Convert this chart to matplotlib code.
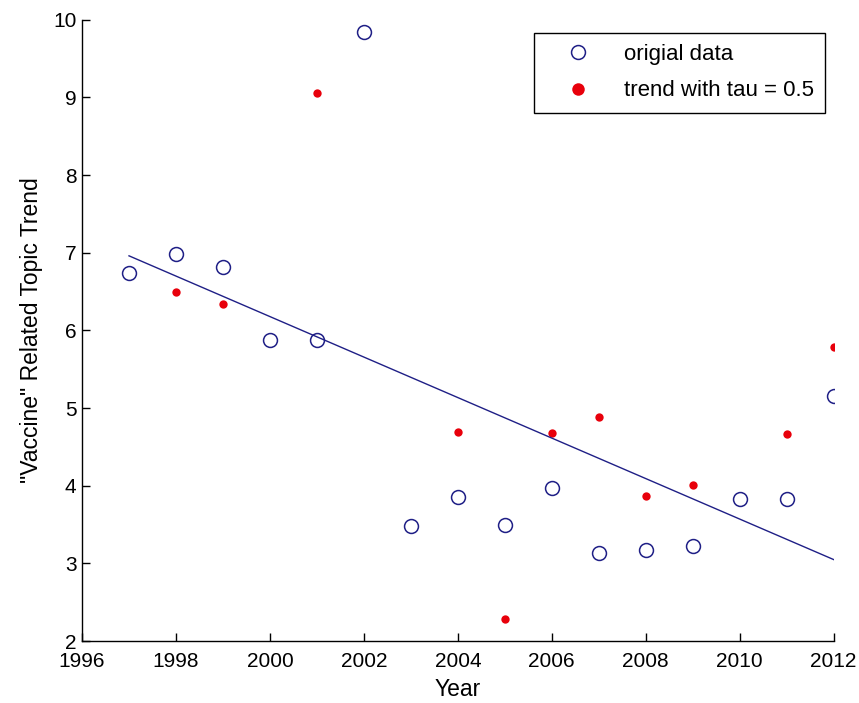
import numpy as np
import matplotlib
matplotlib.use("Agg")
import matplotlib.pyplot as plt
from matplotlib.lines import Line2D

# datos
years = [1997, 1998, 1999, 2000, 2001, 2002, 2003, 2004, 2005, 2006,
         2007, 2008, 2009, 2010, 2011, 2012]
original = [6.74, 6.98, 6.81, 5.88, 5.88, 9.84, 3.48, 3.86, 3.50, 3.97,
            3.13, 3.17, 3.23, 3.83, 3.83, 5.15]

trend_years = [1998, 1999, 2001, 2004, 2005, 2006, 2007, 2008, 2009, 2011, 2012]
trend_vals = [6.49, 6.34, 9.06, 4.69, 2.29, 4.68, 4.88, 3.87, 4.01, 4.67, 5.79]

fit_x = [1997, 2012]
fit_y = [6.96, 3.05]

plt.rcParams['font.family'] = ['Liberation Sans', 'DejaVu Sans']

navy = '#1f1f86'
red = '#e8000b'

fig = plt.figure(figsize=(8.59, 7.03), dpi=100)
ax = fig.add_axes([0.0955, 0.088, 0.875, 0.884])

ax.plot(years, original, 'o', mfc='none', mec=navy, ms=10, mew=1.1)
ax.plot(trend_years, trend_vals, 'o', color=red, ms=6, mew=0)
ax.plot(fit_x, fit_y, '-', color=navy, lw=1.0)

ax.set_xlim(1996, 2012)
ax.set_ylim(2, 10)
ax.set_xticks(np.arange(1996, 2013, 2))
ax.set_yticks(np.arange(2, 11, 1))
ax.spines['top'].set_visible(False)
ax.spines['right'].set_visible(False)
ax.tick_params(direction='in', length=6, width=1, labelsize=15)
ax.tick_params(axis='x', pad=8)
ax.tick_params(axis='y', pad=4)
for s in ['left', 'bottom']:
    ax.spines[s].set_linewidth(1.0)

ax.set_xlabel('Year', fontsize=16.5, labelpad=5)
ax.set_ylabel('"Vaccine" Related Topic Trend', fontsize=16.5, labelpad=7)

handles = [Line2D([], [], ls='none', marker='o', mfc='none', mec=navy, ms=10, mew=1.1),
           Line2D([], [], ls='none', marker='o', color=red, ms=9, mew=0)]
leg = ax.legend(handles, ['origial data', 'trend with tau = 0.5'],
                loc='upper right', bbox_to_anchor=(0.988, 0.979), borderaxespad=0,
                fontsize=16, fancybox=False, edgecolor='black', framealpha=1,
                borderpad=0.5, handletextpad=0.55, labelspacing=0.7, handlelength=3.0)
leg.get_frame().set_linewidth(1.0)

fig.savefig('out.png', dpi=100)
